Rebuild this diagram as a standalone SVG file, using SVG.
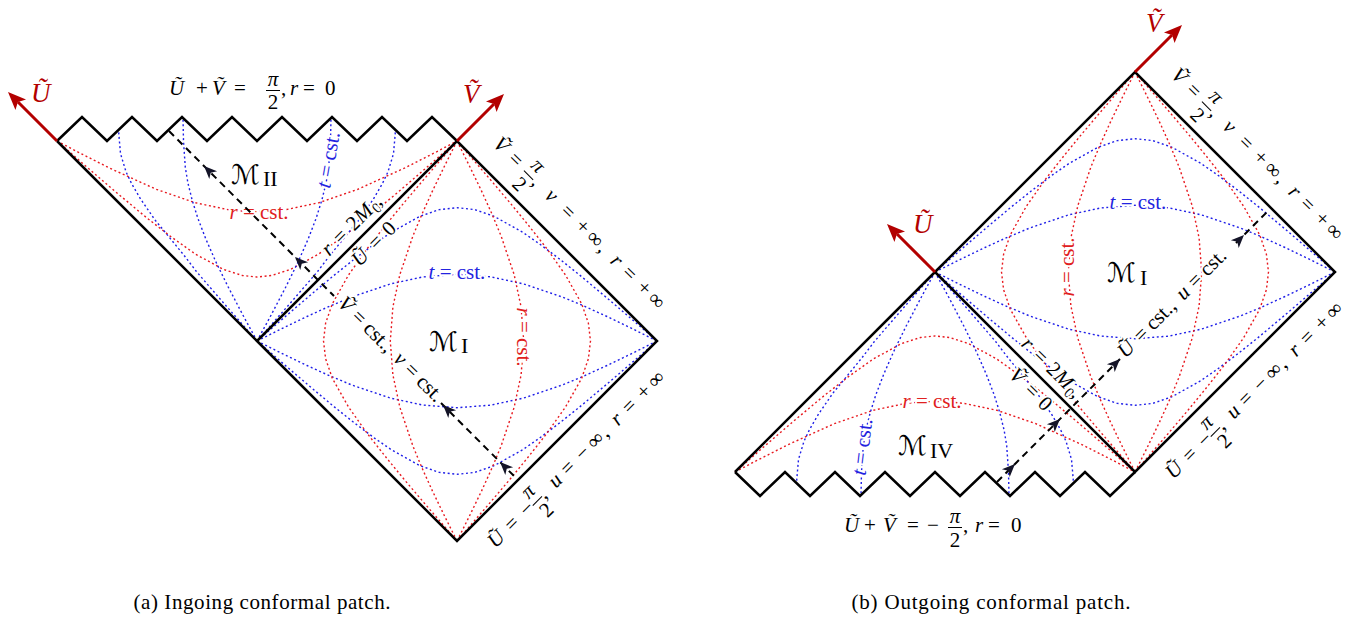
<svg xmlns="http://www.w3.org/2000/svg" width="1365" height="619" viewBox="0 0 1365 619">
<style>
.edge{fill:none;stroke:#000;stroke-width:2.5;stroke-linejoin:miter}
.rd{fill:none;stroke:#e8191f;stroke-width:1.4;stroke-dasharray:2 2.6}
.bd{fill:none;stroke:#1f1fe8;stroke-width:1.4;stroke-dasharray:2 2.6}
.ax{fill:none;stroke:#b30000;stroke-width:3}
.dash{fill:none;stroke:#000;stroke-width:2;stroke-dasharray:7 5}
.bar{stroke:#000;stroke-width:1}
text{font-family:"Liberation Serif","DejaVu Serif",serif;fill:#000;font-size:21px}
.i{font-style:italic}
.h{stroke:#fff;stroke-width:4px;paint-order:stroke;stroke-linejoin:round}
.red{fill:#e02020}
.blue{fill:#2323e0}
.axl{fill:#b30000;font-size:27px;font-style:italic}
.scr{font-family:"DejaVu Sans","DejaVu Serif",serif;font-size:27px}
.sub{font-size:22px}
.cap{font-size:21px}
</style>
<defs>
<path id="rh" d="M0,0 L-18,-7.5 L-14,0 L-18,7.5 Z" fill="#b30000"/>
<path id="sh" d="M0,0 L-13,-5.5 L-9.5,0 L-13,5.5 Z" fill="#141428"/>
<g id="curvesI">
<path class="bd" d="M257,341 L276,324.6 L294.3,308.8 L311.5,294.2 L334.3,275.1 L353.7,259.6 L374.5,243.9 L391,232.5 L420,216.3 L439.3,209.6 L457,207.7 L474.7,209.6 L494,216.3 L523,232.5 L539.5,243.9 L560.3,259.6 L579.7,275.1 L602.5,294.2 L619.7,308.8 L638,324.6 L657,341"/>
<path class="bd" d="M257,341 L282.3,328.4 L307,316.5 L330.3,305.9 L352,296.9 L390.5,283.9 L423,276.9 L457,274.3 L491,276.9 L523.5,283.9 L562,296.9 L583.7,305.9 L607,316.5 L631.7,328.4 L657,341"/>
<path class="bd" d="M257,341 L282.3,353.6 L307,365.5 L330.3,376.1 L352,385.1 L390.5,398.1 L423,405.1 L457,407.7 L491,405.1 L523.5,398.1 L562,385.1 L583.7,376.1 L607,365.5 L631.7,353.6 L657,341"/>
<path class="bd" d="M257,341 L276,357.4 L294.3,373.2 L311.5,387.8 L334.3,406.9 L353.7,422.4 L374.5,438.1 L391,449.5 L420,465.7 L439.3,472.4 L457,474.3 L474.7,472.4 L494,465.7 L523,449.5 L539.5,438.1 L560.3,422.4 L579.7,406.9 L602.5,387.8 L619.7,373.2 L638,357.4 L657,341"/>
<path class="rd" d="M457,141 L440.6,160 L424.8,178.3 L403.4,203.5 L385.6,225.2 L367.1,248.7 L348.5,275 L332.3,303.8 L325.6,323.3 L323.5,341 L325.6,358.7 L332.3,378.2 L348.5,407 L367.1,433.3 L385.6,456.8 L403.4,478.5 L424.8,503.7 L440.6,522 L457,541"/>
<path class="rd" d="M457,141 L444.4,166.3 L432.5,190.9 L421.9,214.3 L412.9,236 L399.9,274.5 L392.9,307 L390.3,341 L392.9,375 L399.9,407.5 L412.9,446 L421.9,467.7 L432.5,491.1 L444.4,515.7 L457,541"/>
<path class="rd" d="M457,141 L469.6,166.3 L481.5,190.9 L492.1,214.3 L501.1,236 L514.1,274.5 L521.1,307 L523.7,341 L521.1,375 L514.1,407.5 L501.1,446 L492.1,467.7 L481.5,491.1 L469.6,515.7 L457,541"/>
<path class="rd" d="M457,141 L473.4,160 L489.2,178.3 L510.6,203.5 L528.4,225.2 L546.9,248.7 L565.5,275 L581.7,303.8 L588.4,323.3 L590.5,341 L588.4,358.7 L581.7,378.2 L565.5,407 L546.9,433.3 L528.4,456.8 L510.6,478.5 L489.2,503.7 L473.4,522 L457,541"/>
</g>
<g id="curvesII">
<path class="rd" d="M57,141 L78.4,152.3 L109.6,168.1 L156.2,189.3 L195.1,202.7 L227.4,209.5 L241.6,211 L257,211.6 L272.4,211 L286.6,209.5 L318.9,202.7 L357.8,189.3 L404.4,168.1 L435.6,152.3 L457,141"/>
<path class="rd" d="M57,141 L73.4,155.3 L97,175.9 L115.2,191.5 L146,217.2 L169.8,235.9 L195.6,254.2 L223.7,269.5 L242.4,275.5 L257,277 L271.6,275.5 L290.3,269.5 L318.4,254.2 L344.2,235.9 L368,217.2 L398.8,191.5 L417,175.9 L440.6,155.3 L457,141"/>
<path class="bd" d="M257,341 L266.5,330.2 L293.9,299 L317.6,271.5 L330.2,255 L359.1,219.8 L373.3,199.2 L382.3,183.8 L388,171.8 L393.5,153.6 L394.6,141 L395.5,130"/>
<path class="bd" d="M257,341 L263.1,329.8 L272.1,313.2 L286.1,286.4 L298.3,261.5 L308.3,238.7 L316.2,218.1 L322,199.6 L326.1,182.8 L328.7,167.5 L330.5,141 L331,118"/>
<path class="bd" d="M257,341 L247.5,330.2 L220.1,299 L196.4,271.5 L183.8,255 L154.9,219.8 L140.7,199.2 L131.7,183.8 L126,171.8 L120.5,153.6 L119.4,141 L118.5,130"/>
<path class="bd" d="M257,341 L250.9,329.8 L241.9,313.2 L227.9,286.4 L215.7,261.5 L205.7,238.7 L197.8,218.1 L192,199.6 L187.9,182.8 L185.3,167.5 L183.5,141 L183,118"/>
</g>
<g id="lblA">
<text class="h" text-anchor="middle"><tspan x="6.5" class="i">Ṽ</tspan><tspan x="27.3">=</tspan><tspan x="47.2" y="-11.5" class="i">π</tspan><tspan x="47.2" y="15">2</tspan><tspan x="57" y="0">,</tspan><tspan x="78" class="i">v</tspan><tspan x="101">=</tspan><tspan x="122">+</tspan><tspan x="139.5">∞</tspan><tspan x="151">,</tspan><tspan x="170" class="i">r</tspan><tspan x="188">=</tspan><tspan x="209">+</tspan><tspan x="226.5">∞</tspan></text>
<line class="bar" x1="40.7" y1="-4.5" x2="53.7" y2="-4.5"/>
</g>
<g id="lblB">
<text class="h" text-anchor="middle"><tspan x="7" class="i">Ũ</tspan><tspan x="29">=</tspan><tspan x="50">−</tspan><tspan x="63" y="-11.5" class="i">π</tspan><tspan x="63" y="15">2</tspan><tspan x="71.5" y="0">,</tspan><tspan x="90" class="i">u</tspan><tspan x="108">=</tspan><tspan x="129">−</tspan><tspan x="147">∞</tspan><tspan x="159">,</tspan><tspan x="177" class="i">r</tspan><tspan x="195">=</tspan><tspan x="215.5">+</tspan><tspan x="233">∞</tspan></text>
<line class="bar" x1="56.5" y1="-4.5" x2="69.5" y2="-4.5"/>
</g>
</defs>
<rect width="1365" height="619" fill="#fff"/>

<!-- Panel (a): ingoing patch -->
<g id="panel-a">
<g id="a-curves"><use href="#curvesI"/><use href="#curvesII"/></g>
<g id="a-labels">
<text class="h blue" x="457" y="279" text-anchor="middle"><tspan class="i">t</tspan> = cst.</text>
<text class="h red" x="259" y="219" text-anchor="middle"><tspan class="i">r</tspan> = cst.</text>
<text class="h blue" transform="translate(329,160) rotate(-80)" y="6" text-anchor="middle"><tspan class="i">t</tspan> = cst.</text>
<text class="h red" transform="translate(523,337) rotate(90)" y="6" text-anchor="middle"><tspan class="i">r</tspan> = cst.</text>
<text class="h scr" x="231" y="184">ℳ</text><text class="h sub" x="263" y="186">II</text>
<text class="h scr" x="429" y="351">ℳ</text><text class="h sub" x="461" y="353">I</text>
<g transform="translate(329,257) rotate(-45)"><text class="h" text-anchor="middle"><tspan x="4.5" class="i">r</tspan><tspan x="22.4">=</tspan><tspan x="40.8">2</tspan><tspan x="55.5" class="i">M</tspan><tspan x="68.7" y="4" font-size="15">0</tspan><tspan x="74" y="0">,</tspan></text></g>
<g transform="translate(360,267) rotate(-45)"><text class="h" text-anchor="middle"><tspan x="7" class="i">Ũ</tspan><tspan x="29">=</tspan><tspan x="47.5">0</tspan></text></g>
<g transform="translate(337,304.7) rotate(45)"><text class="h" font-size="20" text-anchor="middle"><tspan x="6" class="i">Ṽ</tspan><tspan x="24.5">=</tspan><tspan x="52.5">cst.,</tspan><tspan x="83" class="i">v</tspan><tspan x="99.3">=</tspan><tspan x="125">cst.</tspan></text></g>
<use href="#lblA" transform="translate(492,145) rotate(45)"/>
<use href="#lblB" transform="translate(496,548.7) rotate(-45)"/>
<text class="h i" x="169" y="95">Ũ</text>
<text class="h" x="202" y="95" text-anchor="middle">+</text>
<text class="h i" x="212" y="95">Ṽ</text>
<text class="h" x="240" y="95" text-anchor="middle">=</text>
<text class="h i" x="273" y="86" text-anchor="middle">π</text>
<line class="bar" x1="266" y1="90.5" x2="280" y2="90.5"/>
<text class="h" x="273" y="109" text-anchor="middle">2</text>
<text class="h" x="281" y="95">,</text>
<text class="h i" x="290" y="95">r</text>
<text class="h" x="309" y="95" text-anchor="middle">=</text>
<text class="h" x="325" y="95">0</text>
</g>
<g id="a-boundary">
<path class="edge" d="M57,141 L257,341 L457,541 L657,341 L457,141 L257,341"/>
<path class="edge" d="M57,141 L82,117 L107,141 L132,117 L157,141 L182,117 L207,141 L232,117 L257,141 L282,117 L307,141 L332,117 L357,141 L382,117 L407,141 L432,117 L457,141"/>
</g>
<g id="a-axes">
<path class="ax" d="M57,141 L18,102"/><use href="#rh" transform="translate(8,92) rotate(-135)"/>
<path class="ax" d="M457,141 L494,104"/><use href="#rh" transform="translate(504,94) rotate(-45)"/>
<text class="axl" x="31" y="102">Ũ</text>
<text class="axl" x="463" y="103">Ṽ</text>
</g>
<g id="a-connectors">
<path class="dash" d="M169,131 L334,296"/>
<path class="dash" d="M441,403 L518,480"/>
<use href="#sh" transform="translate(204,166) rotate(-135)"/>
<use href="#sh" transform="translate(295,257) rotate(-135)"/>
<use href="#sh" transform="translate(443,405) rotate(-135)"/>
<use href="#sh" transform="translate(500,462) rotate(-135)"/>
</g>
</g>

<!-- Panel (b): outgoing patch -->
<g id="panel-b">
<g id="b-curves"><use href="#curvesI" transform="translate(678,-69)"/><use href="#curvesII" transform="translate(678,613) scale(1,-1)"/></g>
<g id="b-labels">
<text class="h blue" x="1138" y="209" text-anchor="middle"><tspan class="i">t</tspan> = cst.</text>
<text class="h red" x="932" y="408" text-anchor="middle"><tspan class="i">r</tspan> = cst.</text>
<text class="h red" transform="translate(1068,267) rotate(-90)" y="6" text-anchor="middle"><tspan class="i">r</tspan> = cst.</text>
<text class="h blue" transform="translate(863,447) rotate(-83)" y="6" text-anchor="middle"><tspan class="i">t</tspan> = cst.</text>
<text class="h scr" x="1107" y="282">ℳ</text><text class="h sub" x="1140" y="285">I</text>
<text class="h scr" x="898" y="455">ℳ</text><text class="h sub" x="930" y="458">IV</text>
<g transform="translate(1020,345) rotate(45)"><text class="h" text-anchor="middle"><tspan x="4.5" class="i">r</tspan><tspan x="22.4">=</tspan><tspan x="40.8">2</tspan><tspan x="55.5" class="i">M</tspan><tspan x="68.7" y="4" font-size="15">0</tspan><tspan x="74" y="0">,</tspan></text></g>
<g transform="translate(1008,376) rotate(45)"><text class="h" text-anchor="middle"><tspan x="6.5" class="i">Ṽ</tspan><tspan x="27.5">=</tspan><tspan x="46">0</tspan></text></g>
<g transform="translate(1126,358.7) rotate(-45)"><text class="h" font-size="20" text-anchor="middle"><tspan x="7" class="i">Ũ</tspan><tspan x="27.7">=</tspan><tspan x="55.7">cst.,</tspan><tspan x="87" class="i">u</tspan><tspan x="104.1">=</tspan><tspan x="129.6">cst.</tspan></text></g>
<use href="#lblA" transform="translate(1170,76) rotate(45)"/>
<use href="#lblB" transform="translate(1174,479.7) rotate(-45)"/>
<text class="h i" x="844" y="532">Ũ</text>
<text class="h" x="870" y="532" text-anchor="middle">+</text>
<text class="h i" x="883" y="532">Ṽ</text>
<text class="h" x="913" y="532" text-anchor="middle">=</text>
<text class="h" x="933" y="532" text-anchor="middle">−</text>
<text class="h i" x="955" y="523" text-anchor="middle">π</text>
<line class="bar" x1="948" y1="527.5" x2="962" y2="527.5"/>
<text class="h" x="955" y="547" text-anchor="middle">2</text>
<text class="h" x="963" y="532">,</text>
<text class="h i" x="975" y="532">r</text>
<text class="h" x="994" y="532" text-anchor="middle">=</text>
<text class="h" x="1011" y="532">0</text>
</g>
<g id="b-boundary">
<path class="edge" d="M735,472 L935,272 L1135,72 L1335,272 L1135,472 L935,272"/>
<path class="edge" d="M735,472 L760,496 L785,472 L810,496 L835,472 L860,496 L885,472 L910,496 L935,472 L960,496 L985,472 L1010,496 L1035,472 L1060,496 L1085,472 L1110,496 L1135,472"/>
</g>
<g id="b-axes">
<path class="ax" d="M935,272 L897,234"/><use href="#rh" transform="translate(887,224) rotate(-135)"/>
<path class="ax" d="M1135,72 L1172,35"/><use href="#rh" transform="translate(1182,25) rotate(-45)"/>
<text class="axl" x="913" y="233">Ũ</text>
<text class="axl" x="1146" y="32">Ṽ</text>
</g>
<g id="b-connectors">
<path class="dash" d="M997,482 L1120,359"/>
<path class="dash" d="M1236,243 L1270,209"/>
<use href="#sh" transform="translate(1015,464) rotate(-45)"/>
<use href="#sh" transform="translate(1060,419) rotate(-45)"/>
<use href="#sh" transform="translate(1120,359) rotate(-45)"/>
<use href="#sh" transform="translate(1244,235) rotate(-45)"/>
</g>
</g>

<g id="captions">
<text class="cap" x="262" y="609" text-anchor="middle" textLength="257" lengthAdjust="spacing">(a) Ingoing conformal patch.</text>
<text class="cap" x="991" y="609" text-anchor="middle" textLength="279" lengthAdjust="spacing">(b) Outgoing conformal patch.</text>
</g>
</svg>
